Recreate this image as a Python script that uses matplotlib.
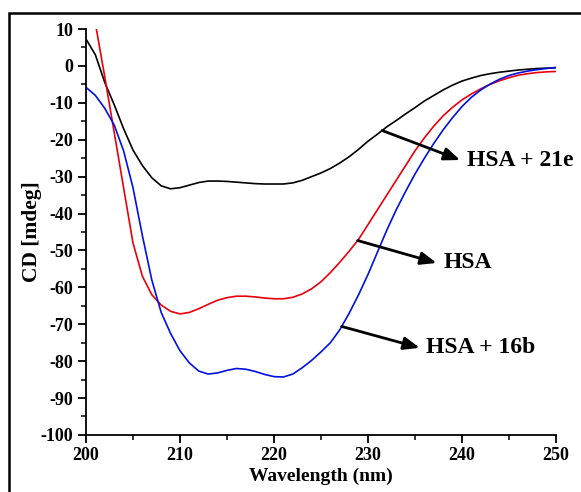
import numpy as np
import matplotlib
matplotlib.use('Agg')
import matplotlib.pyplot as plt
from matplotlib.patches import Rectangle
from matplotlib.ticker import MultipleLocator

plt.rcParams['font.family'] = ['Liberation Serif', 'DejaVu Serif']
plt.rcParams['font.weight'] = 'bold'
plt.rcParams['axes.unicode_minus'] = False

# wavelength grid (nm)
wl = np.arange(200, 251)

# HSA + 21e (black)
cd_21e = [7.3, 3, -4.5, -10.5, -17, -22.8, -27, -30.3, -32.5, -33.3,
          -33, -32.3, -31.6, -31.2, -31.2, -31.3, -31.5, -31.7, -31.9, -32,
          -32, -32, -31.7, -31, -30, -29, -27.8, -26.3, -24.6, -22.6,
          -20.4, -18.5, -16.5, -14.8, -13, -11.3, -9.5, -8, -6.5, -5.2,
          -4.1, -3.3, -2.6, -2.1, -1.7, -1.4, -1.1, -0.9, -0.7, -0.6, -0.5]

# HSA (red), starts at 201 nm
wl_hsa = np.arange(201, 251)
cd_hsa = [11.5, -3, -18, -33, -48, -57, -62, -64.8, -66.5,
          -67.2, -66.8, -65.8, -64.6, -63.5, -62.8, -62.4, -62.4, -62.6, -62.9,
          -63.1, -63.1, -62.7, -61.8, -60.4, -58.5, -56, -53.2, -50.2, -47,
          -43, -39, -35, -31, -27, -23, -19.5, -16.3, -13.5, -11.2,
          -9.2, -7.6, -6.2, -5, -4, -3.2, -2.5, -2.1, -1.8, -1.6, -1.5]

# HSA + 16b (blue)
cd_16b = [-5.8, -8, -11.5, -16, -23, -33, -46, -58, -66.8, -72.5,
          -77.2, -80.5, -82.7, -83.5, -83.2, -82.5, -82, -82.2, -82.8, -83.6,
          -84.2, -84.3, -83.5, -81.8, -79.8, -77.5, -75, -71.5, -67, -62,
          -56.5, -50.5, -44.5, -39, -34, -29.3, -25, -21, -17.3, -14,
          -11, -8.5, -6.5, -4.9, -3.6, -2.6, -1.9, -1.4, -1, -0.7, -0.4]

fig = plt.figure(figsize=(5.81, 4.92), dpi=100)
ax = fig.add_axes([0.148, 0.116, 0.809, 0.825])

ax.plot(wl, cd_21e, color='black', lw=1.2)
ax.plot(wl_hsa, cd_hsa, color='#e8000b', lw=1.2)
ax.plot(wl, cd_16b, color='#0010e0', lw=1.2)

ax.set_xlim(200, 250)
ax.set_ylim(-100, 10)
ax.xaxis.set_major_locator(MultipleLocator(10))
ax.xaxis.set_minor_locator(MultipleLocator(5))
ax.yaxis.set_major_locator(MultipleLocator(10))
ax.yaxis.set_minor_locator(MultipleLocator(5))

for s in ['top', 'right']:
    ax.spines[s].set_visible(False)
for s in ['left', 'bottom']:
    ax.spines[s].set_linewidth(1.3)

ax.tick_params(which='major', direction='out', length=6, width=1.3, labelsize=13, pad=3)
ax.tick_params(which='minor', direction='out', length=3.5, width=1.1)
for lab in ax.get_xticklabels() + ax.get_yticklabels():
    lab.set_fontweight('bold')

ax.set_xlabel('Wavelength (nm)', fontsize=14, fontweight='bold', labelpad=2)
ax.set_ylabel('CD [mdeg]', fontsize=15.5, fontweight='bold')
ax.yaxis.set_label_coords(-0.094, 0.5)

# arrows from curves to labels
labels = [('HSA + 21e', wl, cd_21e, 231.5, 239.8, -25.5),
          ('HSA', wl_hsa, cd_hsa, 228.9, 237.3, -53.4),
          ('HSA + 16b', wl, cd_16b, 227.2, 235.5, -76.4)]
for txt, x, y, x0, x1, y1 in labels:
    y0 = np.interp(x0, x, y)
    ax.annotate('', xy=(x1, y1), xytext=(x0, y0),
                arrowprops=dict(arrowstyle='-|>,head_length=0.8,head_width=0.32',
                                color='black', lw=2, mutation_scale=12,
                                shrinkA=0, shrinkB=0))
    ax.text(x1 + 0.7, y1, txt, fontsize=17, fontweight='bold',
            va='center', ha='left')

# outer frame
fig.patches.append(Rectangle((9 / 581, -0.1), 1.2, 1 - 13 / 492 + 0.1,
                             transform=fig.transFigure, fill=False,
                             edgecolor='black', lw=1.8, clip_on=False))

fig.savefig('out.png', dpi=100)
